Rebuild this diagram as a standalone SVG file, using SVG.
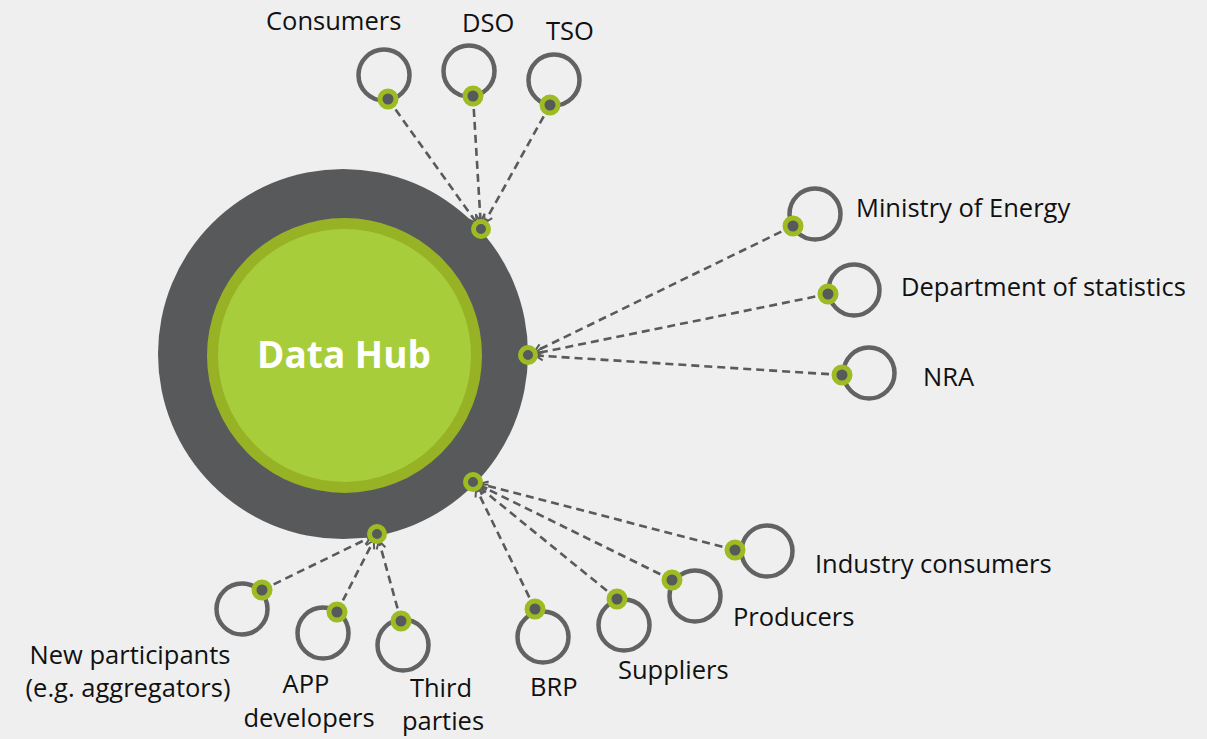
<svg xmlns="http://www.w3.org/2000/svg" width="1207" height="739" viewBox="0 0 1207 739">
<defs>
<style>
.lbl{font-family:"Open Sans","Liberation Sans",sans-serif;font-size:25.5px;fill:#111;}
.ring{fill:none;stroke:#626262;stroke-width:4.5;}
.port{fill:#58595b;stroke:#9dbb23;stroke-width:5;}
.conn{stroke:#5a5a5a;stroke-width:2.6;stroke-dasharray:8 5;fill:none;marker-end:url(#arr);}
</style>
<marker id="arr" markerUnits="userSpaceOnUse" markerWidth="12" markerHeight="12" viewBox="0 0 12 12" refX="10" refY="6" orient="auto">
<path d="M2,1.5 L10,6 L2,10.5" fill="none" stroke="#5a5a5a" stroke-width="2"/>
</marker>
</defs>
<rect width="1207" height="739" fill="#efefef"/>
<g id="hub">
<circle cx="343" cy="354" r="185" fill="#58595b"/>
<circle cx="344.5" cy="355.5" r="132" fill="#a8cd3b" stroke="#97b224" stroke-width="11"/>
<text x="344" y="368" text-anchor="middle" font-family="'Open Sans','Liberation Sans',sans-serif" font-size="37" font-weight="bold" fill="#ffffff">Data Hub</text>
</g>
<g id="connectors">
<line class="conn" x1="388" y1="99" x2="476.9" y2="223.3"/>
<line class="conn" x1="473" y1="96" x2="480.6" y2="222"/>
<line class="conn" x1="550" y1="105" x2="484.4" y2="222.9"/>
<line class="conn" x1="793" y1="226" x2="534.3" y2="351.9"/>
<line class="conn" x1="828" y1="294" x2="534.9" y2="353.6"/>
<line class="conn" x1="842" y1="375" x2="535" y2="355.4"/>
<line class="conn" x1="735" y1="550" x2="479.8" y2="483.8"/>
<line class="conn" x1="672" y1="580" x2="479.3" y2="485.1"/>
<line class="conn" x1="617" y1="599" x2="478.4" y2="486.4"/>
<line class="conn" x1="535" y1="609" x2="476.1" y2="488.3"/>
<line class="conn" x1="262" y1="590" x2="370.7" y2="537.1"/>
<line class="conn" x1="337" y1="612" x2="373.8" y2="540.2"/>
<line class="conn" x1="401" y1="621" x2="378.9" y2="540.7"/>
</g>
<g id="hub-ports">
<circle class="port" cx="481" cy="229" r="7.5"/>
<circle class="port" cx="528" cy="355" r="7.5"/>
<circle class="port" cx="473" cy="482" r="7.5"/>
<circle class="port" cx="377" cy="534" r="7.5"/>
</g>
<g id="consumers">
<circle class="ring" cx="384" cy="75" r="25.5"/>
<circle class="port" cx="388" cy="99" r="8"/>
<text class="lbl" x="266" y="30">Consumers</text>
</g>
<g id="dso">
<circle class="ring" cx="469" cy="71" r="25.5"/>
<circle class="port" cx="473" cy="96" r="8"/>
<text class="lbl" x="462" y="32">DSO</text>
</g>
<g id="tso">
<circle class="ring" cx="554" cy="80" r="25.5"/>
<circle class="port" cx="550" cy="105" r="8"/>
<text class="lbl" x="546" y="40">TSO</text>
</g>
<g id="ministry">
<circle class="ring" cx="815" cy="214" r="25.5"/>
<circle class="port" cx="793" cy="226" r="8"/>
<text class="lbl" x="856" y="217">Ministry of Energy</text>
</g>
<g id="statistics">
<circle class="ring" cx="854" cy="290" r="25.5"/>
<circle class="port" cx="828" cy="294" r="8"/>
<text class="lbl" x="901" y="296">Department of statistics</text>
</g>
<g id="nra">
<circle class="ring" cx="869" cy="373" r="25.5"/>
<circle class="port" cx="842" cy="375" r="8"/>
<text class="lbl" x="923" y="386">NRA</text>
</g>
<g id="industry">
<circle class="ring" cx="767" cy="551" r="25.5"/>
<circle class="port" cx="735" cy="550" r="8"/>
<text class="lbl" x="815" y="573">Industry consumers</text>
</g>
<g id="producers">
<circle class="ring" cx="695" cy="596" r="25.5"/>
<circle class="port" cx="672" cy="580" r="8"/>
<text class="lbl" x="733" y="626">Producers</text>
</g>
<g id="suppliers">
<circle class="ring" cx="624" cy="625" r="25.5"/>
<circle class="port" cx="617" cy="599" r="8"/>
<text class="lbl" x="618" y="679">Suppliers</text>
</g>
<g id="brp">
<circle class="ring" cx="543" cy="637" r="25.5"/>
<circle class="port" cx="535" cy="609" r="8"/>
<text class="lbl" x="530" y="696">BRP</text>
</g>
<g id="third-parties">
<circle class="ring" cx="403" cy="645" r="25.5"/>
<circle class="port" cx="401" cy="621" r="8"/>
<text class="lbl" x="441" y="697" text-anchor="middle">Third</text>
<text class="lbl" x="443" y="730" text-anchor="middle">parties</text>
</g>
<g id="app-developers">
<circle class="ring" cx="323" cy="633" r="25.5"/>
<circle class="port" cx="337" cy="612" r="8"/>
<text class="lbl" x="306" y="693" text-anchor="middle">APP</text>
<text class="lbl" x="309" y="727" text-anchor="middle">developers</text>
</g>
<g id="new-participants">
<circle class="ring" cx="242" cy="609" r="25.5"/>
<circle class="port" cx="262" cy="590" r="8"/>
<text class="lbl" x="130" y="664" text-anchor="middle">New participants</text>
<text class="lbl" x="128" y="697" text-anchor="middle">(e.g. aggregators)</text>
</g>
</svg>
